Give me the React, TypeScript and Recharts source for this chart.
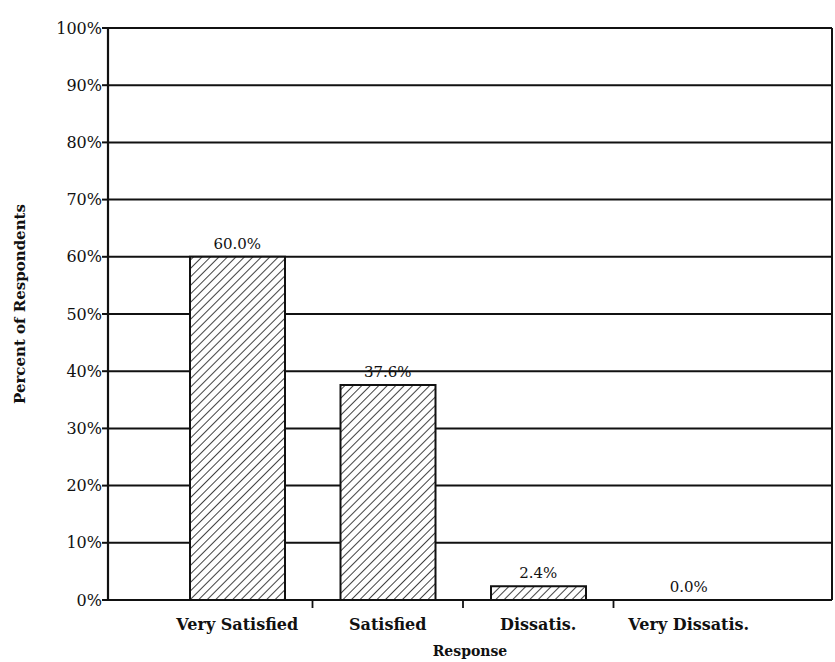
import { ComposedChart, Bar, Line, XAxis, YAxis, CartesianGrid, LabelList } from 'recharts'

const responses = ['Very Satisfied', 'Satisfied', 'Dissatis.', 'Very Dissatis.']
const percents = [60.0, 37.6, 2.4, 0.0]
const yTicks = [0, 10, 20, 30, 40, 50, 60, 70, 80, 90, 100]

const rows = responses.map((r, i) => ({ response: r, percent: percents[i] }))

const FONT = '"DejaVu Serif", "Liberation Serif", serif'

// eslint-disable-next-line @typescript-eslint/no-explicit-any
function CategoryTick({ x, y, payload, index }: any) {
  const half = payload?.offset ?? 75
  return (
    <g>
      <text x={x} y={y + 22} textAnchor="middle" fontFamily={FONT} fontSize={16} fontWeight="bold" fill="#111">
        {payload.value}
      </text>
      {index < responses.length - 1 && (
        <line x1={x + half} y1={y - 8} x2={x + half} y2={y} stroke="#111" strokeWidth={1.8} />
      )}
    </g>
  )
}

// eslint-disable-next-line @typescript-eslint/no-explicit-any
function YTitle({ viewBox }: any) {
  const cx = viewBox.x + 20
  const cy = viewBox.y + viewBox.height / 2 - 10
  return (
    <text
      x={cx}
      y={cy}
      transform={`rotate(-90, ${cx}, ${cy})`}
      textAnchor="middle"
      dominantBaseline="central"
      fontFamily={FONT}
      fontSize={15}
      fontWeight="bold"
      fill="#111"
    >
      Percent of Respondents
    </text>
  )
}

export default function App() {
  return (
    <div>
      <style>{'body{margin:0;background:#fff}'}</style>
      <ComposedChart
        width={835}
        height={662}
        data={rows}
        margin={{ top: 28, right: 3, left: 0, bottom: 0 }}
        barSize={95}
      >
        <defs>
          <pattern id="hatch" patternUnits="userSpaceOnUse" width={6} height={6} patternTransform="rotate(45)">
            <rect width={6} height={6} fill="#fff" />
            <line x1={0} y1={0} x2={0} y2={6} stroke="#111" strokeWidth={1.6} />
          </pattern>
        </defs>
        <CartesianGrid
          stroke="#111"
          strokeWidth={2}
          vertical
          horizontal
          verticalCoordinatesGenerator={({ offset }: any) => [offset.left + offset.width]}
        />
        <XAxis
          dataKey="response"
          tick={<CategoryTick />}
          tickLine={false}
          axisLine={{ stroke: '#111', strokeWidth: 2 }}
          padding={{ left: 54, right: 68 }}
          height={62}
          interval={0}
          label={{ value: 'Response', position: 'insideBottom', offset: 6, fontFamily: FONT, fontSize: 14, fontWeight: 'bold', fill: '#111' }}
        />
        <YAxis
          domain={[0, 100]}
          ticks={yTicks}
          interval={0}
          width={108}
          tickFormatter={(v: number) => `${v}%`}
          tick={{ fontFamily: FONT, fontSize: 16, fill: '#111' }}
          tickLine={{ stroke: '#111', strokeWidth: 2 }}
          tickSize={6}
          tickMargin={0}
          axisLine={{ stroke: '#111', strokeWidth: 2.2 }}
          label={<YTitle />}
        />
        <Bar dataKey="percent" fill="url(#hatch)" stroke="#111" strokeWidth={2} isAnimationActive={false} />
        <Line
          dataKey="percent"
          stroke="none"
          dot={false}
          activeDot={false}
          legendType="none"
          isAnimationActive={false}
        >
          <LabelList
            dataKey="percent"
            position="top"
            offset={8}
            formatter={(v: any) => `${Number(v).toFixed(1)}%`}
            style={{ fontFamily: FONT, fontSize: 15, fill: '#111' }}
          />
        </Line>
      </ComposedChart>
    </div>
  )
}
